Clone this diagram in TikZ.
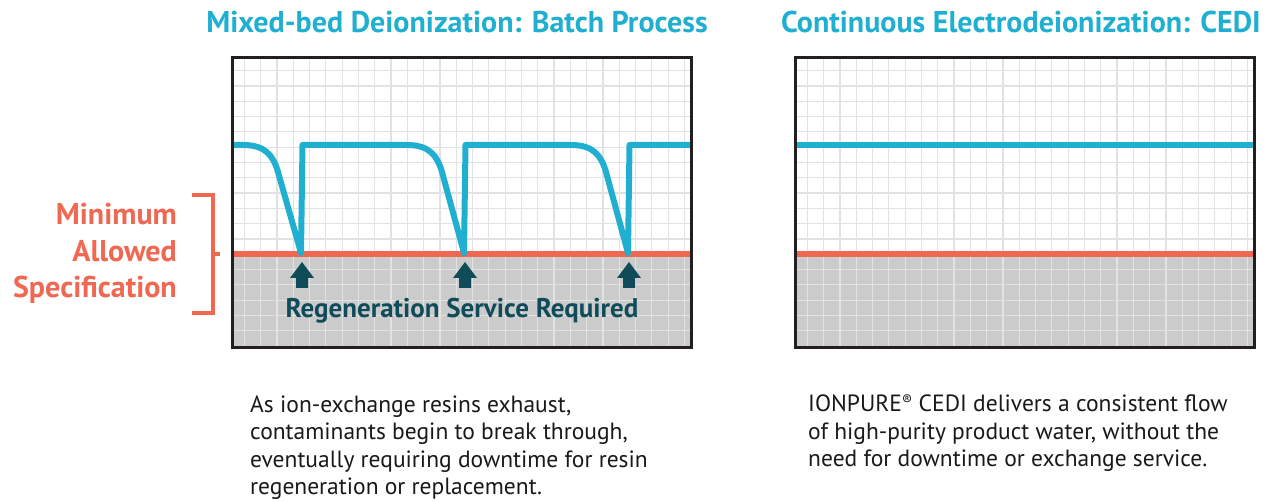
\documentclass[tikz,border=0pt]{standalone}
\usepackage{fontspec}
\setmainfont{PT Sans}
\usepackage{xcolor}
\usetikzlibrary{calc}
\definecolor{cediblue}{RGB}{33,175,209}
\definecolor{speccoral}{RGB}{241,104,82}
\definecolor{regteal}{RGB}{16,75,89}
\definecolor{gridgray}{RGB}{226,226,226}
\definecolor{zonegray}{RGB}{203,203,203}
\definecolor{framedark}{RGB}{35,31,32}
\tikzset{
	charttitle/.style={font=\bfseries\fontsize{30}{32}\selectfont, text=cediblue, inner sep=0pt, anchor=base},
	spectext/.style={font=\bfseries\fontsize{30}{36.5}\selectfont, text=speccoral, inner sep=0pt, align=right, anchor=base east},
	regentext/.style={font=\bfseries\fontsize{27}{28}\selectfont, text=regteal, inner sep=0pt, anchor=base},
	bodytext/.style={font=\fontsize{23.5}{27.5}\selectfont, text=black!90, inner sep=0pt, align=left, anchor=base west},
	level/.style={line width=6pt},
}

\begin{document}
\begin{tikzpicture}[x=1pt, y=-1pt]
	\useasboundingbox (0,0) rectangle (1267,502);

	% both charts: gray zone, grid, minimum spec line and frame
	\foreach \xo in {0,563} {
		\fill[zonegray] (233+\xo,254) rectangle (691+\xo,348);
		\foreach \k in {0,...,27}
			\draw[gridgray, line width=1.2pt] (244.3+\xo+16.3*\k, 58) -- (244.3+\xo+16.3*\k, 347);
		\foreach \k in {0,...,17}
			\draw[gridgray, line width=1.2pt] (233+\xo, 70.7+15.3*\k) -- (691+\xo, 70.7+15.3*\k);
		\draw[speccoral, level] (233+\xo,254) -- (691+\xo,254);
	}

	% batch process: purity drops until regeneration
	\draw[cediblue, level, line join=round]
		(233,145) -- (243,145) .. controls (265,145) and (273,155) .. (278,172) -- (301,253) -- (302.5,145)
		-- (407,145) .. controls (429,145) and (437,155) .. (442,172) -- (464,253) -- (465.5,145)
		-- (571,145) .. controls (593,145) and (601,155) .. (606,172) -- (628,253) -- (629.5,145)
		-- (691,145);

	% cedi: constant purity
	\draw[cediblue, level] (797,145) -- (1253,145);

	\draw[framedark, line width=3pt] (232.5,57.5) rectangle (691.5,348);
	\draw[framedark, line width=3pt] (795.5,57.5) rectangle (1254.5,348);

	% regeneration arrows
	\foreach \ax in {302,465,629}
		\fill[regteal] (\ax,262) -- (\ax+12,278) -- (\ax+6,278) -- (\ax+6,288) -- (\ax-6,288) -- (\ax-6,278) -- (\ax-12,278) -- cycle;
	\node[regentext] (regen) at (462,318) {Regeneration Service Required};

	% minimum allowed specification bracket
	\draw[speccoral, line width=4pt] (192,195) -- (212.5,195) -- (212.5,313) -- (192,313);
	\draw[speccoral, line width=4pt] (212.5,254) -- (220,254);
	\node[spectext] (spec) at (177,298) {Minimum\\Allowed\\Specification};

	\node[charttitle] (batchtitle) at (457,33) {Mixed-bed Deionization: Batch Process};
	\node[charttitle] (cedititle) at (1021,33) {Continuous Electrodeionization: CEDI};

	\node[bodytext] (batchtext) at (250,494.5) {As ion-exchange resins exhaust,\\contaminants begin to break through,\\eventually requiring downtime for resin\\regeneration or replacement.};
	\node[bodytext] (ceditext) at (808,467) {IONPURE{\fontsize{15}{15}\selectfont\raisebox{0.45em}{®}} CEDI delivers a consistent flow\\of high-purity product water, without the\\need for downtime or exchange service.};
\end{tikzpicture}
\end{document}
